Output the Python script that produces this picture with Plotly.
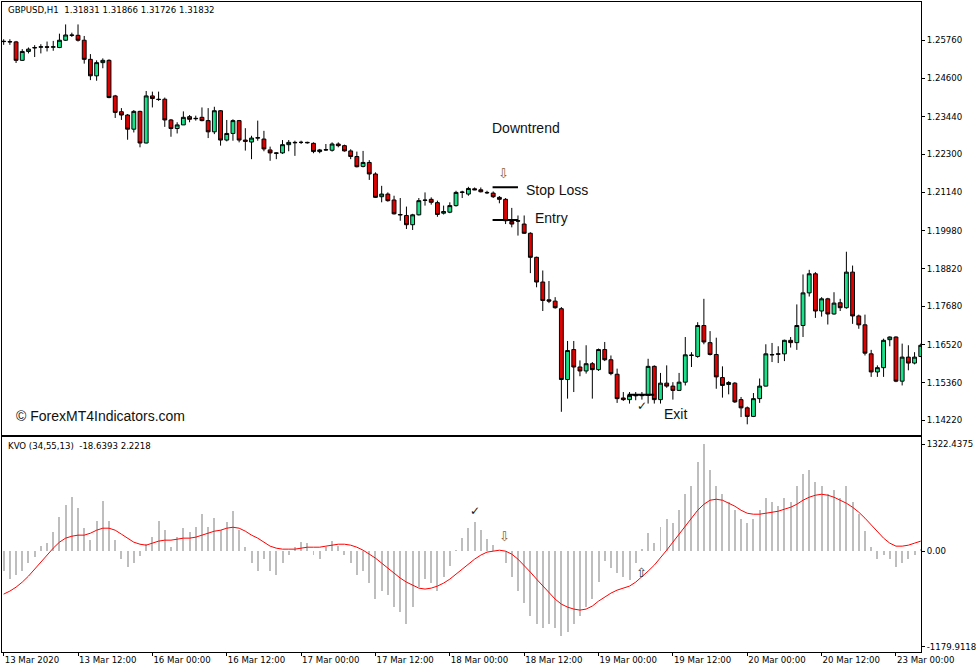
import plotly.graph_objects as go

# ---------------- data ----------------
opens = [1.2573,1.2572,1.2571,1.2515,1.2542,1.2554,1.2555,1.2556,1.2555,1.2554,
         1.2576,1.2592,1.2591,1.2576,1.2518,1.2468,1.2508,1.2515,1.2407,1.2359,
         1.2349,1.2306,1.2360,1.2264,1.2407,1.2397,1.2397,1.2334,1.2308,1.2319,
         1.2344,1.2339,1.2342,1.2332,1.2298,1.2362,1.2273,1.2293,1.2332,1.2273,
         1.2267,1.2279,1.2276,1.2243,1.2234,1.2234,1.2259,1.2266,1.2266,1.2266,
         1.2263,1.2238,1.2244,1.2242,1.2261,1.2256,1.2240,1.2223,1.2193,1.2205,
         1.2170,1.2101,1.2109,1.2091,1.2047,1.2044,1.2016,1.2046,1.2091,1.2093,
         1.2083,1.2051,1.2054,1.2074,1.2114,1.2109,1.2125,1.2122,1.2114,1.2112,
         1.2099,1.2093,1.2026,1.2028,1.2018,1.1990,1.1917,1.1842,1.1788,1.1784,
         1.1761,1.1546,1.1637,1.1584,1.1572,1.1594,1.1576,1.1637,1.1606,1.1562,
         1.1490,1.1485,1.1498,1.1497,1.1498,1.1586,1.1485,1.1535,1.1526,1.1513,
         1.1538,1.1619,1.1616,1.1710,1.1658,1.1622,1.1552,1.1531,1.1535,1.1485,
         1.1460,1.1434,1.1488,1.1526,1.1622,1.1624,1.1624,1.1665,1.1658,1.1710,
         1.1809,1.1867,1.1754,1.1791,1.1745,1.1779,1.1764,1.1872,1.1739,1.1712,
         1.1624,1.1569,1.1582,1.1667,1.1675,1.1541,1.1614,1.1596,1.1616]
highs = [1.2579,1.2579,1.2574,1.2549,1.2554,1.2561,1.2564,1.2572,1.2574,1.2596,
         1.2624,1.2599,1.2624,1.2589,1.2534,1.2515,1.2521,1.2518,1.2410,1.2370,
         1.2352,1.2364,1.2362,1.2422,1.2420,1.2420,1.2402,1.2337,1.2327,1.2360,
         1.2349,1.2347,1.2372,1.2370,1.2374,1.2364,1.2334,1.2336,1.2334,1.2309,
         1.2286,1.2332,1.2301,1.2253,1.2236,1.2273,1.2273,1.2271,1.2271,1.2268,
         1.2266,1.2246,1.2261,1.2266,1.2266,1.2259,1.2245,1.2238,1.2240,1.2212,
         1.2175,1.2134,1.2114,1.2104,1.2097,1.2071,1.2049,1.2097,1.2114,1.2099,
         1.2089,1.2074,1.2084,1.2119,1.2119,1.2131,1.2129,1.2129,1.2119,1.2117,
         1.2103,1.2097,1.2067,1.2044,1.2044,1.1993,1.1919,1.1877,1.1845,1.1796,
         1.1766,1.1663,1.1663,1.1604,1.1650,1.1599,1.1640,1.1660,1.1619,1.1579,
         1.1508,1.1508,1.1508,1.1508,1.1609,1.1589,1.1566,1.1589,1.1538,1.1566,
         1.1675,1.1629,1.1720,1.1791,1.1693,1.1673,1.1586,1.1541,1.1538,1.1493,
         1.1464,1.1505,1.1549,1.1653,1.1657,1.1647,1.1667,1.1675,1.1774,1.1865,
         1.1879,1.1872,1.1796,1.1794,1.1811,1.1791,1.1934,1.1892,1.1743,1.1743,
         1.1636,1.1589,1.1670,1.1677,1.1677,1.1655,1.1650,1.1629,1.1655]
lows = [1.2562,1.2562,1.2507,1.2513,1.2536,1.2525,1.2536,1.2542,1.2544,1.2552,
        1.2574,1.2586,1.2572,1.2505,1.2455,1.2453,1.2491,1.2400,1.2340,1.2334,
        1.2274,1.2296,1.2251,1.2263,1.2372,1.2392,1.2313,1.2283,1.2293,1.2319,
        1.2327,1.2332,1.2330,1.2279,1.2291,1.2256,1.2269,1.2271,1.2266,1.2241,
        1.2215,1.2271,1.2239,1.2210,1.2215,1.2231,1.2239,1.2225,1.2261,1.2262,
        1.2233,1.2233,1.2240,1.2238,1.2251,1.2238,1.2215,1.2190,1.2190,1.2152,
        1.2097,1.2084,1.2086,1.2047,1.2028,1.2003,1.2000,1.2044,1.2074,1.2077,
        1.2040,1.2047,1.2051,1.2071,1.2097,1.2104,1.2121,1.2114,1.2109,1.2097,
        1.2081,1.2018,1.2008,1.1983,1.1988,1.1869,1.1826,1.1754,1.1778,1.1761,
        1.1448,1.1488,1.1508,1.1556,1.1564,1.1488,1.1572,1.1602,1.1559,1.1475,
        1.1481,1.1473,1.1483,1.1485,1.1473,1.1473,1.1473,1.1521,1.1485,1.1511,
        1.1528,1.1584,1.1612,1.1653,1.1619,1.1518,1.1491,1.1501,1.1475,1.1432,
        1.1410,1.1432,1.1475,1.1525,1.1599,1.1596,1.1602,1.1643,1.1636,1.1675,
        1.1798,1.1733,1.1737,1.1713,1.1743,1.1754,1.1761,1.1715,1.1700,1.1619,
        1.1554,1.1554,1.1554,1.1647,1.1538,1.1528,1.1574,1.1592,1.1614]
closes = [1.2572,1.2571,1.2515,1.2542,1.2549,1.2553,1.2556,1.2555,1.2556,1.2576,
          1.2592,1.2591,1.2576,1.2518,1.2468,1.2508,1.2515,1.2402,1.2357,1.2349,
          1.2306,1.2360,1.2264,1.2407,1.2399,1.2396,1.2334,1.2308,1.2319,1.2342,
          1.2336,1.2338,1.2332,1.2298,1.2362,1.2273,1.2293,1.2332,1.2273,1.2269,
          1.2279,1.2280,1.2246,1.2234,1.2233,1.2259,1.2266,1.2265,1.2266,1.2265,
          1.2238,1.2243,1.2243,1.2261,1.2256,1.2240,1.2223,1.2192,1.2205,1.2170,
          1.2099,1.2109,1.2089,1.2049,1.2046,1.2016,1.2046,1.2089,1.2090,1.2084,
          1.2047,1.2056,1.2074,1.2114,1.2115,1.2126,1.2122,1.2116,1.2113,1.2101,
          1.2093,1.2028,1.2018,1.2027,1.1990,1.1917,1.1842,1.1786,1.1784,1.1764,
          1.1546,1.1634,1.1584,1.1572,1.1594,1.1576,1.1637,1.1606,1.1564,1.1488,
          1.1485,1.1498,1.1497,1.1498,1.1586,1.1485,1.1535,1.1526,1.1513,1.1538,
          1.1621,1.1620,1.1710,1.1660,1.1622,1.1554,1.1528,1.1537,1.1478,1.1460,
          1.1434,1.1488,1.1526,1.1624,1.1621,1.1623,1.1665,1.1658,1.1710,1.1809,
          1.1867,1.1754,1.1791,1.1745,1.1778,1.1764,1.1872,1.1739,1.1712,1.1626,
          1.1569,1.1582,1.1665,1.1675,1.1541,1.1614,1.1596,1.1614,1.1650]

kvo_hist = [-250,-350,-300,-250,-150,-80,60,100,230,420,
            570,670,530,285,135,370,620,370,135,-100,
            -200,-150,-60,80,175,370,260,50,175,285,
            235,300,455,300,410,260,360,495,260,50,
            -150,-250,-100,-250,-300,-150,-50,50,110,100,
            -50,-100,50,120,60,-50,-150,-300,-250,-400,
            -600,-500,-550,-700,-750,-900,-700,-450,-350,-400,
            -500,-320,-185,10,160,280,360,260,150,75,
            0,-150,-320,-500,-650,-800,-900,-950,-900,-950,
            -1050,-1000,-900,-800,-700,-600,-390,-130,-210,-270,
            -320,-355,-150,20,220,100,300,400,350,500,
            700,800,1100,1322,1000,800,700,600,500,400,
            350,400,500,650,600,550,650,600,800,950,
            1000,850,800,700,750,650,800,600,450,250,
            50,-100,-50,-100,-200,-150,-100,-50,20]
kvo_signal = [-531,-494,-445,-383,-309,-222,-136,-49,37,111,
              161,185,198,198,222,259,284,284,259,210,
              161,111,86,74,99,124,136,136,148,161,
              161,173,198,222,247,259,284,296,284,247,
              198,161,111,62,37,25,25,25,37,49,
              49,49,62,74,86,86,74,49,12,-37,
              -86,-148,-210,-272,-333,-383,-420,-457,-469,-457,
              -432,-395,-346,-284,-222,-161,-99,-49,-12,0,
              12,0,-37,-99,-173,-259,-346,-432,-519,-593,
              -655,-692,-716,-729,-716,-679,-618,-568,-519,-482,
              -457,-432,-383,-321,-247,-173,-86,12,111,210,
              309,408,506,580,630,642,630,593,556,506,
              469,457,457,469,482,494,519,543,580,630,
              667,692,704,692,667,630,593,543,482,408,
              321,235,161,99,62,62,74,99,124]

bars = list(range(len(opens)))

tick_bars = [0, 12, 24, 36, 48, 60, 72, 84, 96, 108, 120, 132, 144]
tick_labels = ["13 Mar 2020", "13 Mar 12:00", "16 Mar 00:00", "16 Mar 12:00",
               "17 Mar 00:00", "17 Mar 12:00", "18 Mar 00:00", "18 Mar 12:00",
               "19 Mar 00:00", "19 Mar 12:00", "20 Mar 00:00", "20 Mar 12:00",
               "23 Mar 00:00"]
price_ticks = [1.14220, 1.15360, 1.16520, 1.17680, 1.18820, 1.19980,
               1.21140, 1.22300, 1.23440, 1.24600, 1.25760]
price_labels = ["1.14220", "1.15360", "1.16520", "1.17680", "1.18820", "1.19980",
                "1.21140", "1.22300", "1.23440", "1.24600", "1.25760"]
kvo_ticks = [-1179.9118, 0.0, 1322.4375]
kvo_labels = ["-1179.9118", "0.00", "1322.4375"]

stop_loss = 1.2130
entry = 1.2030
exit_price = 1.1500

# ---------------- figure ----------------
AX_FONT = dict(family="DejaVu Sans", size=8.6, color="black")
GREEN = "#19E38A"
RED = "#E00000"

fig = go.Figure()

fig.add_trace(go.Bar(
    x=bars, y=kvo_hist, width=0.16, marker=dict(color="#BEBEBE", line=dict(width=0)),
    xaxis="x", yaxis="y2", showlegend=False, hoverinfo="skip"))
fig.add_trace(go.Scatter(
    x=bars, y=kvo_signal, mode="lines", line=dict(color="#FF0000", width=1),
    xaxis="x", yaxis="y2", showlegend=False, hoverinfo="skip"))

fig.add_trace(go.Candlestick(
    x=bars, open=opens, high=highs, low=lows, close=closes,
    increasing=dict(line=dict(color="black", width=1), fillcolor=GREEN),
    decreasing=dict(line=dict(color="black", width=1), fillcolor=RED),
    xaxis="x2", yaxis="y", showlegend=False, hoverinfo="skip"))

xr = [-0.27, 148.04]
top_dom = [0.3333, 1.0]
bot_dom = [0.0, 0.3303]

fig.update_layout(
    width=977, height=672,
    margin=dict(l=1, r=52, t=1, b=20),
    paper_bgcolor="white", plot_bgcolor="white",
    showlegend=False,
    boxgap=0.38, boxgroupgap=0.0,
    bargap=0,
    xaxis=dict(domain=[0, 1], anchor="y2", range=xr, tickmode="array",
               tickvals=tick_bars, ticktext=tick_labels, ticks="outside",
               ticklen=3, tickcolor="black", tickfont=AX_FONT,
               ticklabelposition="outside right",
               showgrid=False, zeroline=False, showline=True, linecolor="black",
               linewidth=1, mirror=True, fixedrange=True),
    xaxis2=dict(domain=[0, 1], anchor="y", range=xr, matches="x",
                showticklabels=False, ticks="", showgrid=False, zeroline=False,
                showline=True, linecolor="black", linewidth=1, mirror=True,
                rangeslider=dict(visible=False)),
    yaxis=dict(domain=top_dom, anchor="x2", side="right", range=[1.13765, 1.26921],
               tickmode="array", tickvals=price_ticks, ticktext=price_labels,
               ticks="outside", ticklen=3, tickcolor="black", tickfont=AX_FONT,
               showgrid=False, zeroline=False, showline=True, linecolor="black",
               linewidth=1, mirror=True),
    yaxis2=dict(domain=bot_dom, anchor="x", side="right", range=[-1247, 1408],
                tickmode="array", tickvals=kvo_ticks, ticktext=kvo_labels,
                ticks="outside", ticklen=3, tickcolor="black", tickfont=AX_FONT,
                showgrid=False, zeroline=False, showline=True, linecolor="black",
                linewidth=1, mirror=True),
)

# trade level lines
line_style = dict(color="black", width=2)
fig.add_shape(type="line", xref="x2", yref="y", x0=78.9, x1=83.0, y0=stop_loss, y1=stop_loss, line=line_style)
fig.add_shape(type="line", xref="x2", yref="y", x0=78.9, x1=83.0, y0=entry, y1=entry, line=line_style)
fig.add_shape(type="line", xref="x2", yref="y", x0=100.7, x1=105.0, y0=exit_price, y1=exit_price, line=line_style)

TXT = dict(family="Liberation Sans, Arial, sans-serif", size=14, color="#111111")
ARROW_DN = dict(family="DejaVu Sans", size=13, color="#8A5A2A")
ARROW_UP = dict(family="DejaVu Sans", size=13, color="#2A3A4A")
CHECK = dict(family="DejaVu Sans", size=12, color="#101828")
anns = [
    dict(x=84.3, y=1.2310, xref="x2", yref="y", text="Downtrend", xanchor="center", font=TXT),
    dict(x=84.0, y=1.2122, xref="x2", yref="y", text="Stop Loss", xanchor="left", font=TXT),
    dict(x=85.4, y=1.2035, xref="x2", yref="y", text="Entry", xanchor="left", font=TXT),
    dict(x=106.3, y=1.1442, xref="x2", yref="y", text="Exit", xanchor="left", font=TXT),
    dict(x=1.6, y=1.1434, xref="x2", yref="y", text="© ForexMT4Indicators.com", xanchor="left", font=TXT),
    dict(x=80.7, y=1.2171, xref="x2", yref="y", text="⇩", xanchor="center", font=ARROW_DN),
    dict(x=103.0, y=1.1466, xref="x2", yref="y", text="✓", xanchor="center", font=CHECK),
    dict(x=76.0, y=494, xref="x", yref="y2", text="✓", xanchor="center", font=CHECK),
    dict(x=80.8, y=185, xref="x", yref="y2", text="⇩", xanchor="center", font=ARROW_DN),
    dict(x=102.9, y=-265, xref="x", yref="y2", text="⇧", xanchor="center", font=ARROW_UP),
    dict(x=0.004, y=0.9877, xref="paper", yref="paper", text="GBPUSD,H1  1.31831 1.31866 1.31726 1.31832",
         xanchor="left", yanchor="middle", font=AX_FONT),
    dict(x=0.004, y=0.3169, xref="paper", yref="paper", text="KVO (34,55,13)  -18.6393 2.2218",
         xanchor="left", yanchor="middle", font=AX_FONT),
]
for a in anns:
    a.setdefault("showarrow", False)
    a.setdefault("yanchor", "middle")
    fig.add_annotation(**a)

fig.write_html("out.html")
